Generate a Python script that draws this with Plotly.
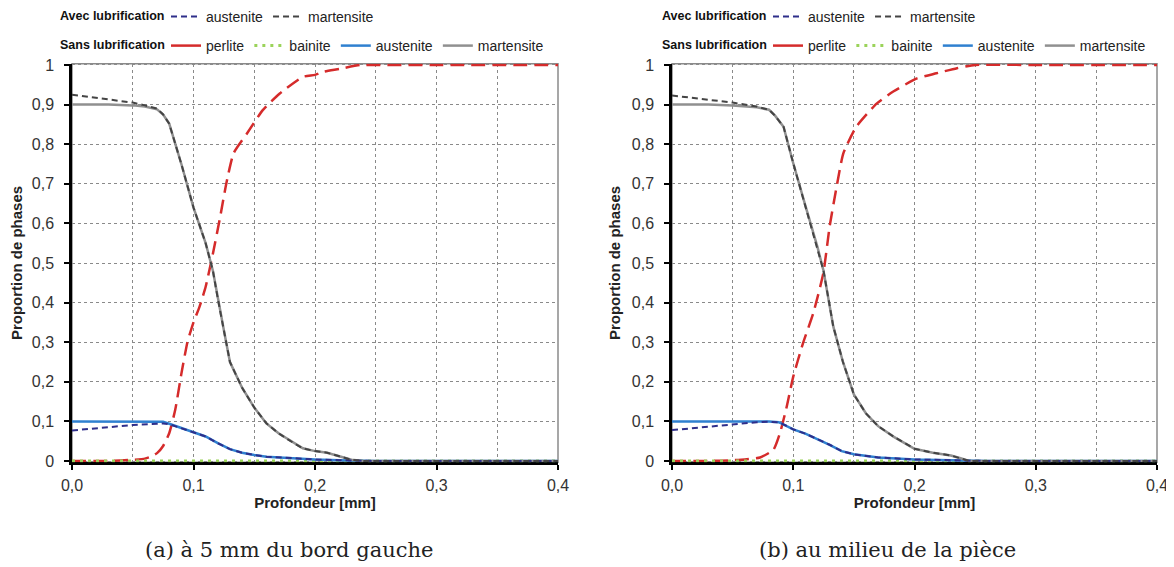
import plotly.graph_objects as go

# ---------------- data ----------------
x_ticks = [0.0, 0.1, 0.2, 0.3, 0.4]
x_ticklabels = ["0,0", "0,1", "0,2", "0,3", "0,4"]
y_ticks = [0, 0.1, 0.2, 0.3, 0.4, 0.5, 0.6, 0.7, 0.8, 0.9, 1.0]
y_ticklabels = ["0", "0,1", "0,2", "0,3", "0,4", "0,5", "0,6", "0,7", "0,8", "0,9", "1"]

# (a) à 5 mm du bord gauche
a_mart_x = [0, 0.03, 0.05, 0.06, 0.07, 0.075, 0.08, 0.09, 0.10, 0.11, 0.116, 0.12, 0.125, 0.13,
            0.14, 0.15, 0.16, 0.17, 0.18, 0.19, 0.20, 0.21, 0.22, 0.23, 0.24, 0.30, 0.40]
a_mart_sans = [0.900, 0.900, 0.898, 0.895, 0.888, 0.875, 0.852, 0.75, 0.64, 0.55, 0.48, 0.41, 0.33, 0.25,
               0.185, 0.135, 0.095, 0.07, 0.05, 0.032, 0.025, 0.021, 0.012, 0.003, 0, 0, 0]
a_mart_avec = [0.925, 0.913, 0.905, 0.898, 0.890, 0.875, 0.852, 0.75, 0.64, 0.55, 0.48, 0.41, 0.33, 0.25,
               0.185, 0.135, 0.095, 0.07, 0.05, 0.032, 0.025, 0.021, 0.012, 0.003, 0, 0, 0]
a_aust_x = [0, 0.03, 0.05, 0.07, 0.075, 0.08, 0.09, 0.10, 0.11, 0.12, 0.13, 0.14, 0.15, 0.16,
            0.18, 0.20, 0.22, 0.25, 0.30, 0.40]
a_aust_sans = [0.1, 0.1, 0.1, 0.1, 0.099, 0.094, 0.083, 0.073, 0.062, 0.045, 0.03, 0.021, 0.015, 0.011,
               0.007, 0.004, 0.002, 0, 0, 0]
a_aust_avec = [0.077, 0.086, 0.091, 0.094, 0.095, 0.093, 0.083, 0.073, 0.062, 0.045, 0.03, 0.021, 0.015, 0.011,
               0.007, 0.004, 0.002, 0, 0, 0]
a_perl_x = [0, 0.03, 0.05, 0.06, 0.065, 0.07, 0.075, 0.08, 0.085, 0.09, 0.095, 0.10, 0.105, 0.11, 0.116,
            0.122, 0.127, 0.133, 0.144, 0.157, 0.171, 0.19, 0.20, 0.207, 0.22, 0.237, 0.25, 0.30, 0.40]
a_perl = [0, 0, 0.003, 0.006, 0.011, 0.02, 0.038, 0.07, 0.13, 0.22, 0.30, 0.35, 0.39, 0.44, 0.524,
          0.617, 0.701, 0.777, 0.827, 0.886, 0.928, 0.970, 0.975, 0.983, 0.99, 1.0, 1.0, 1.0, 1.0]

# (b) au milieu de la pièce
b_mart_x = [0, 0.03, 0.05, 0.07, 0.08, 0.085, 0.092, 0.10, 0.11, 0.12, 0.125, 0.133, 0.141, 0.15,
            0.16, 0.17, 0.183, 0.20, 0.215, 0.23, 0.238, 0.245, 0.30, 0.40]
b_mart_sans = [0.9, 0.9, 0.898, 0.893, 0.887, 0.872, 0.844, 0.752, 0.645, 0.54, 0.48, 0.34, 0.25, 0.168,
               0.12, 0.088, 0.061, 0.031, 0.021, 0.014, 0.007, 0, 0, 0]
b_mart_avec = [0.923, 0.912, 0.905, 0.895, 0.887, 0.872, 0.844, 0.752, 0.645, 0.54, 0.48, 0.34, 0.25, 0.168,
               0.12, 0.088, 0.061, 0.031, 0.021, 0.014, 0.007, 0, 0, 0]
b_aust_x = [0, 0.03, 0.05, 0.07, 0.08, 0.088, 0.095, 0.10, 0.11, 0.12, 0.13, 0.14, 0.15, 0.17,
            0.20, 0.23, 0.26, 0.30, 0.40]
b_aust_sans = [0.1, 0.1, 0.1, 0.1, 0.1, 0.098, 0.088, 0.08, 0.069, 0.056, 0.041, 0.025, 0.017, 0.009,
               0.004, 0.002, 0, 0, 0]
b_aust_avec = [0.078, 0.087, 0.093, 0.098, 0.099, 0.098, 0.088, 0.08, 0.069, 0.056, 0.041, 0.025, 0.017, 0.009,
               0.004, 0.002, 0, 0, 0]
b_perl_x = [0, 0.03, 0.05, 0.06, 0.0726, 0.0836, 0.089, 0.0946, 0.10, 0.108, 0.1165, 0.1248, 0.13,
            0.1358, 0.1413, 0.152, 0.169, 0.1825, 0.202, 0.218, 0.235, 0.25, 0.30, 0.40]
b_perl = [0, 0, 0.002, 0.004, 0.009, 0.028, 0.07, 0.137, 0.213, 0.297, 0.373, 0.474, 0.592,
          0.693, 0.777, 0.844, 0.903, 0.933, 0.966, 0.979, 0.992, 1.0, 1.0, 1.0]

bain_x = [0, 0.4]
bain = [0, 0]

captions = ["(a) à 5 mm du bord gauche", "(b) au milieu de la pièce"]
legend_titles = ["Avec lubrification", "Sans lubrification"]

# ---------------- styles ----------------
C_RED = "#d52b2b"
C_GREEN = "#9bd35a"
C_BLUE = "#2f80d0"
C_NAVY = "#2e2e8a"
C_GRAY = "#909090"
C_DGRAY = "#444444"
FONT = "Liberation Sans, Arial, sans-serif"

# page body has an 8px margin: figure is sized / positioned to compensate
OFF = 8
W, H = 1174 - OFF, 567 - OFF


def fx(px):
    return (px - OFF) / W


def fy(py):
    return 1 - (py - OFF) / H


fig = go.Figure()

panels = [
    dict(xa="x", ya="y", mx=a_mart_x, ms=a_mart_sans, mv=a_mart_avec, ax=a_aust_x, as_=a_aust_sans,
         av=a_aust_avec, px=a_perl_x, p=a_perl, lg_avec="legend", lg_sans="legend2"),
    dict(xa="x2", ya="y2", mx=b_mart_x, ms=b_mart_sans, mv=b_mart_avec, ax=b_aust_x, as_=b_aust_sans,
         av=b_aust_avec, px=b_perl_x, p=b_perl, lg_avec="legend3", lg_sans="legend4"),
]

for P in panels:
    common = dict(xaxis=P["xa"], yaxis=P["ya"], mode="lines", hoverinfo="skip")
    # Sans lubrification
    fig.add_trace(go.Scatter(x=P["px"], y=P["p"], name="perlite", legend=P["lg_sans"], showlegend=False,
                             line=dict(color=C_RED, width=2.5, dash="14px,7px", shape="spline",
                                       smoothing=0.5), **common))
    fig.add_trace(go.Scatter(x=[None], y=[None], name="perlite", legend=P["lg_sans"],
                             line=dict(color=C_RED, width=2.5), **common))
    fig.add_trace(go.Scatter(x=bain_x, y=bain, name="bainite", legend=P["lg_sans"],
                             line=dict(color=C_GREEN, width=3, dash="3px,5px"), **common))
    fig.add_trace(go.Scatter(x=P["ax"], y=P["as_"], name="austenite", legend=P["lg_sans"],
                             line=dict(color=C_BLUE, width=2.5), **common))
    fig.add_trace(go.Scatter(x=P["mx"], y=P["ms"], name="martensite", legend=P["lg_sans"],
                             line=dict(color=C_GRAY, width=2.5), **common))
    # Avec lubrification
    fig.add_trace(go.Scatter(x=P["ax"], y=P["av"], name="austenite", legend=P["lg_avec"],
                             line=dict(color=C_NAVY, width=2, dash="6px,4px"), **common))
    fig.add_trace(go.Scatter(x=P["mx"], y=P["mv"], name="martensite", legend=P["lg_avec"],
                             line=dict(color=C_DGRAY, width=2, dash="6px,4px"), **common))

y_dom = [fy(462.2), fy(63.8)]
x_doms = [[fx(72), fx(558)], [fx(672), fx(1157)]]

axis_x = dict(range=[0, 0.4], tickvals=x_ticks, ticktext=x_ticklabels, ticks="outside", ticklen=5,
              tickwidth=2, tickcolor="black", showline=True, linecolor="black", linewidth=2.5,
              showgrid=True, gridcolor="#8a8a8a", griddash="dot", gridwidth=1,
              minor=dict(dtick=0.05, showgrid=True, gridcolor="#8a8a8a", griddash="dot", gridwidth=1),
              zeroline=False, layer="below traces", ticklabelstandoff=2,
              tickfont=dict(family=FONT, size=16, color="#333333"),
              title=dict(text="<b>Profondeur [mm]</b>", font=dict(family=FONT, size=15, color="#222222"),
                         standoff=4))
axis_y = dict(range=[-0.003, 1.003], tickvals=y_ticks, ticktext=y_ticklabels, ticks="outside", ticklen=5,
              tickwidth=2, tickcolor="black", showline=True, linecolor="black", linewidth=2.5,
              showgrid=True, gridcolor="#8a8a8a", griddash="dot", gridwidth=1,
              zeroline=False, layer="below traces", ticklabelstandoff=7,
              tickfont=dict(family=FONT, size=16, color="#333333"),
              title=dict(text="<b>Proportion de phases</b>", font=dict(family=FONT, size=15, color="#222222"),
                         standoff=8))

fig.update_layout(
    xaxis=dict(domain=x_doms[0], anchor="y", **axis_x),
    yaxis=dict(domain=y_dom, anchor="x", **axis_y),
    xaxis2=dict(domain=x_doms[1], anchor="y2", **axis_x),
    yaxis2=dict(domain=y_dom, anchor="x2", **axis_y),
)

shapes = []
for xr, yr in [("x", "y"), ("x2", "y2")]:
    shapes.append(dict(type="rect", xref=f"{xr} domain", yref=f"{yr} domain", x0=0, x1=1, y0=0, y1=1,
                       line=dict(color="#8a8a8a", width=1.5), layer="below"))

leg_common = dict(orientation="h", xref="paper", yref="paper", xanchor="left", yanchor="top",
                  font=dict(family=FONT, size=14, color="#222222"), bgcolor="rgba(0,0,0,0)",
                  itemwidth=30, tracegroupgap=0)
fig.update_layout(
    legend=dict(x=fx(166), y=fy(1), **leg_common),
    legend2=dict(x=fx(166), y=fy(30), **leg_common),
    legend3=dict(x=fx(768), y=fy(1), **leg_common),
    legend4=dict(x=fx(768), y=fy(30), **leg_common),
)

annotations = []
for i, cap in enumerate(captions):
    annotations.append(dict(text=cap, xref="paper", yref="paper", x=fx(289 if i == 0 else 887),
                            y=fy(550), xanchor="center", yanchor="middle", showarrow=False,
                            font=dict(family="DejaVu Serif, serif", size=21, color="#222222")))
for x0 in (58, 660):
    for j, t in enumerate(legend_titles):
        annotations.append(dict(text=f"<b>{t}</b>", xref="paper", yref="paper", x=fx(x0),
                                y=fy(16 if j == 0 else 45), xanchor="left", yanchor="middle",
                                showarrow=False, font=dict(family=FONT, size=12.5, color="#111111")))

fig.update_layout(
    width=W, height=H, margin=dict(l=0, r=0, t=0, b=0, autoexpand=False),
    paper_bgcolor="white", plot_bgcolor="white",
    shapes=shapes, annotations=annotations,
    font=dict(family=FONT),
)

fig.write_html("out.html")
